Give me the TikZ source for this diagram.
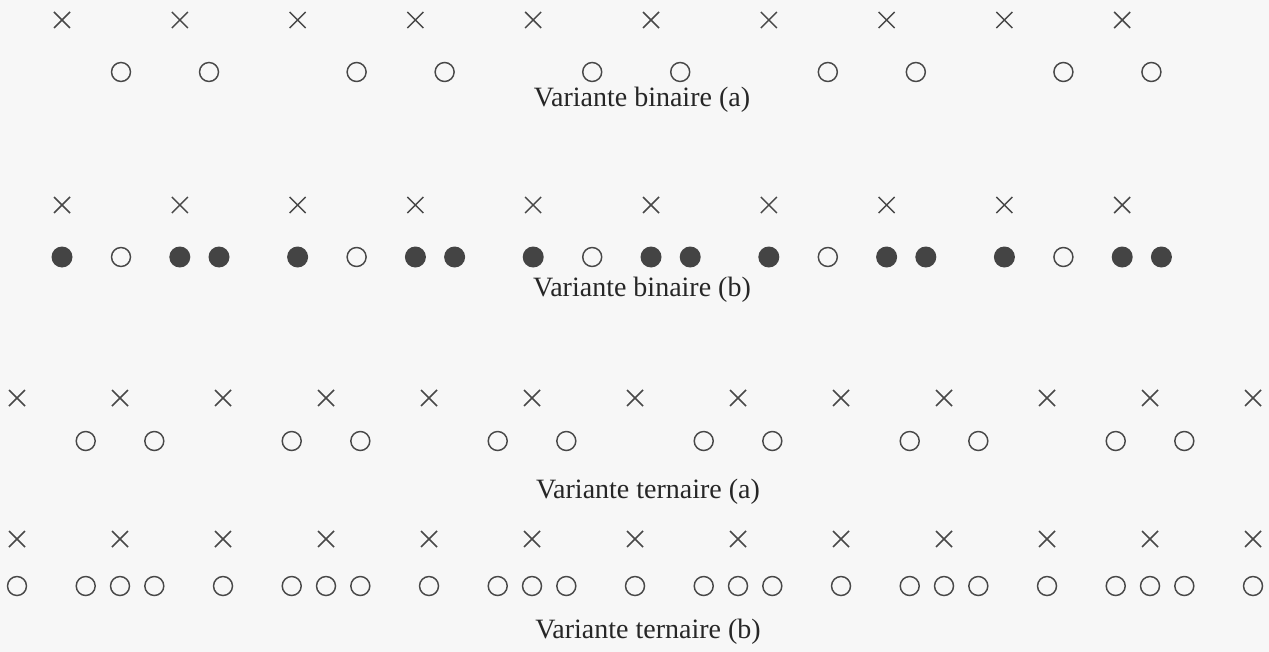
\documentclass[tikz,border=0pt]{standalone}
\usepackage{fontspec}
\setmainfont{Liberation Serif}
\definecolor{ink}{HTML}{484848}
\definecolor{paper}{HTML}{F7F7F7}
\begin{document}
\begin{tikzpicture}[x=0.75pt,y=-0.75pt,
  beatline/.style={draw=ink,line width=1.1pt},
  opendot/.style={draw=ink,line width=1.1pt},
  fulldot/.style={fill=ink!95!black},
  caption/.style={text=black!85,font=\fontsize{21}{24}\selectfont,inner sep=0pt}]
\fill[paper] (0,0) rectangle (1269,652);
\useasboundingbox (0,0) rectangle (1269,652);
% variante binaire (a)
\foreach \i in {0,...,9}
  \draw[beatline] (62+117.8*\i,20) +(-8,-8) -- +(8,8) +(-8,8) -- +(8,-8);
\foreach \k in {0,...,4} {
  \draw[opendot] (62+235.6*\k+59,72) circle (9.5);
  \draw[opendot] (62+235.6*\k+147,72) circle (9.5);
}
\node[caption] (capBa) at (642,100) {Variante binaire (a)};
% variante binaire (b)
\foreach \i in {0,...,9} {
  \draw[beatline] (62+117.8*\i,205) +(-8,-8) -- +(8,8) +(-8,8) -- +(8,-8);
  \fill[fulldot] (62+117.8*\i,257) circle (10.5);
}
\foreach \k in {0,...,4} {
  \draw[opendot] (62+235.6*\k+59,257) circle (9.5);
  \fill[fulldot] (62+235.6*\k+157,257) circle (10.5);
}
\node[caption] (capBb) at (642,290) {Variante binaire (b)};
% variante ternaire (a)
\foreach \i in {0,...,12}
  \draw[beatline] (17+103*\i,398) +(-8,-8) -- +(8,8) +(-8,8) -- +(8,-8);
\foreach \k in {0,...,5} {
  \draw[opendot] (17+206*\k+68.7,441) circle (9.5);
  \draw[opendot] (17+206*\k+137.3,441) circle (9.5);
}
\node[caption] (capTa) at (648,492) {Variante ternaire (a)};
% variante ternaire (b)
\foreach \i in {0,...,12} {
  \draw[beatline] (17+103*\i,539) +(-8,-8) -- +(8,8) +(-8,8) -- +(8,-8);
  \draw[opendot] (17+103*\i,586) circle (9.5);
}
\foreach \k in {0,...,5} {
  \draw[opendot] (17+206*\k+68.7,586) circle (9.5);
  \draw[opendot] (17+206*\k+137.3,586) circle (9.5);
}
\node[caption] (capTb) at (648,632) {Variante ternaire (b)};
\end{tikzpicture}
\end{document}
